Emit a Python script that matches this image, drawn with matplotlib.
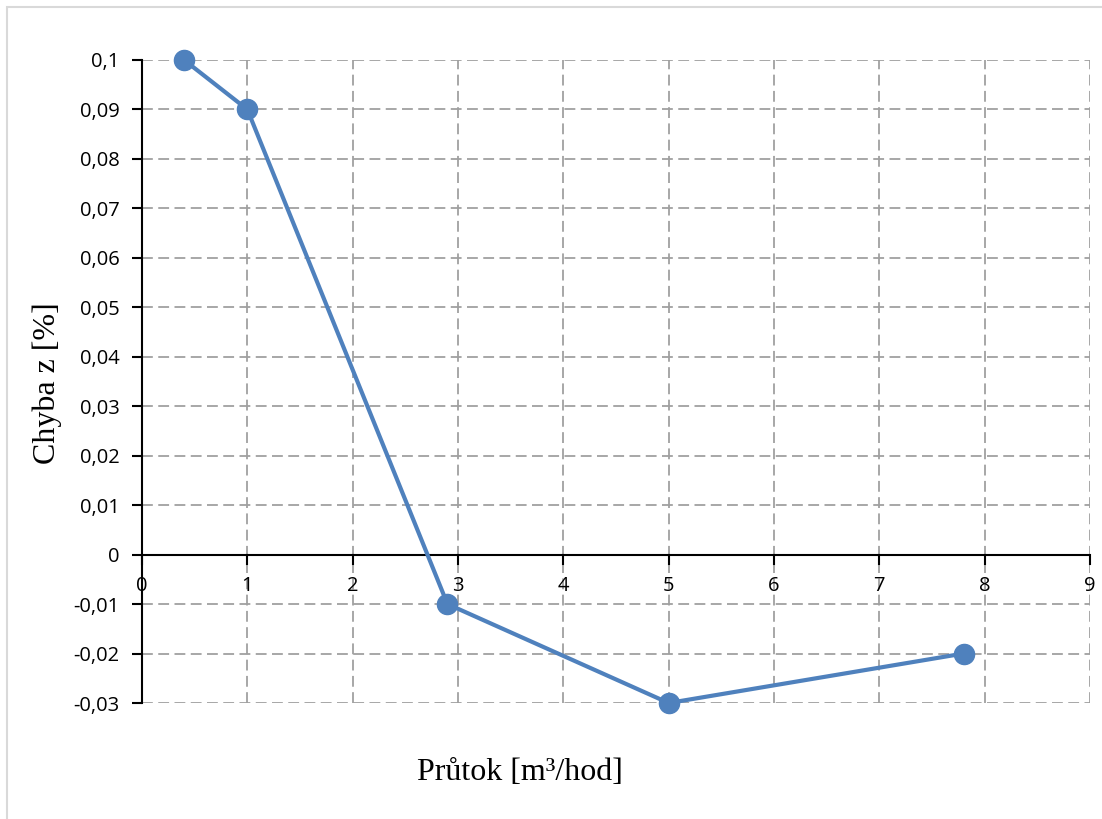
import matplotlib.pyplot as plt
from matplotlib.patches import Rectangle
from matplotlib.ticker import FuncFormatter

# data
prutok = [0.4, 1.0, 2.9, 5.0, 7.8]
chyba = [0.10, 0.09, -0.01, -0.03, -0.02]
x_ticks = list(range(0, 10))
y_ticks = [-0.03, -0.02, -0.01, 0, 0.01, 0.02, 0.03, 0.04, 0.05, 0.06, 0.07, 0.08, 0.09, 0.10]

W, H = 1102, 819
fig = plt.figure(figsize=(W / 100, H / 100), dpi=100)
ax = fig.add_axes([142 / W, 1 - 703 / H, (1090 - 142) / W, (703 - 60) / H])

# light frame round the chart (only left and top visible)
fig.patches.append(Rectangle((7 / W, -0.2), 2, 1.2 - 7 / H, transform=fig.transFigure,
                             fill=False, edgecolor='#d9d9d9', linewidth=1.5))

ax.plot(prutok, chyba, '-o', color='#4f81bd', linewidth=3, markersize=14.5, zorder=5, clip_on=False)

ax.set_xlim(0, 9)
ax.set_ylim(-0.03, 0.1)
ax.set_xticks(x_ticks)
ax.set_yticks(y_ticks)

def comma(v, pos):
    s = f"{v:.2f}".rstrip('0').rstrip('.')
    if s == '-0':
        s = '0'
    return s.replace('.', ',')

ax.yaxis.set_major_formatter(FuncFormatter(comma))

ax.grid(True, color='#a0a0a0', linestyle=(0, (6, 3)), linewidth=1.3)
ax.set_axisbelow(True)

for s in ['top', 'right', 'bottom']:
    ax.spines[s].set_visible(False)
ax.spines['left'].set_linewidth(1.5)
ax.axhline(0, color='black', linewidth=1.5, zorder=3)

tick_font = {'family': 'Open Sans', 'size': 14.5}
for lab in ax.get_yticklabels():
    lab.set_fontfamily('Open Sans')
    lab.set_fontsize(14.5)
ax.tick_params(axis='y', direction='out', length=7, width=1.5, pad=9)
ax.tick_params(axis='x', length=0)

# x tick labels and small ticks sit on the zero line
ax.set_xticklabels([])
per_px = 0.13 / 643
for xv in x_ticks:
    ax.plot([xv, xv], [0, -9 * per_px], color='black', linewidth=1.5, zorder=3, clip_on=False)
    ax.text(xv, -31 * per_px, str(xv), ha='center', va='center', **tick_font)

fig.text(47 / W, 1 - 383 / H, 'Chyba z [%]', rotation=90, ha='center', va='center',
         family='Liberation Serif', fontsize=23)
fig.text(520 / W, 1 - 772 / H, 'Průtok [m³/hod]', ha='center', va='center',
         family='Liberation Serif', fontsize=23)

fig.savefig('out.png', dpi=100)
